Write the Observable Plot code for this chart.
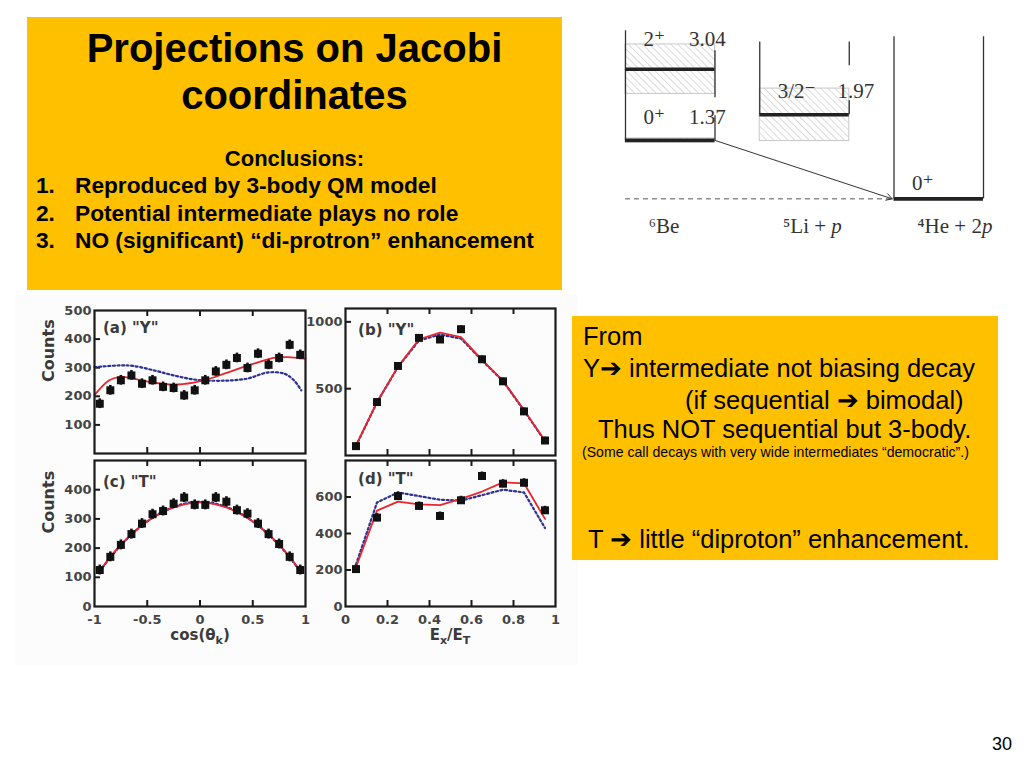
<!DOCTYPE html>
<html><head><meta charset="utf-8">
<script src="https://cdn.jsdelivr.net/npm/d3@7"></script>
<script src="https://cdn.jsdelivr.net/npm/@observablehq/plot@0.6"></script>
<style>
body{margin:0;width:1024px;height:768px;position:relative;background:#fff;overflow:hidden;font-family:"Liberation Sans",Arial,sans-serif;}
.abs{position:absolute;white-space:nowrap;line-height:1;}
.box{position:absolute;background:#FFC000;}
.ax{position:absolute;font-family:"DejaVu Sans",sans-serif;font-weight:bold;font-size:15px;color:#3a3a3a;white-space:nowrap;line-height:1;transform:translateX(-50%);}
.ax sub{font-size:11px;vertical-align:-4px;line-height:0;}
svg{overflow:visible;}
</style></head>
<body>
<div class="box" style="left:27px;top:17px;width:535px;height:273px;"></div>
<div class="abs" style="left:27px;width:535px;text-align:center;top:28px;font-size:40px;font-weight:bold;">Projections on Jacobi</div>
<div class="abs" style="left:27px;width:535px;text-align:center;top:75px;font-size:40px;font-weight:bold;">coordinates</div>
<div class="abs" style="left:27px;width:535px;text-align:center;top:148px;font-size:22px;font-weight:bold;">Conclusions:</div>
<div class="abs" style="left:36px;top:174px;font-size:22.7px;font-weight:bold;">1.</div>
<div class="abs" style="left:75px;top:174px;font-size:22.7px;font-weight:bold;">Reproduced by 3-body QM model</div>
<div class="abs" style="left:36px;top:202px;font-size:22.7px;font-weight:bold;">2.</div>
<div class="abs" style="left:75px;top:202px;font-size:22.7px;font-weight:bold;">Potential intermediate plays no role</div>
<div class="abs" style="left:36px;top:229px;font-size:22.7px;font-weight:bold;">3.</div>
<div class="abs" style="left:75px;top:229px;font-size:22.7px;font-weight:bold;">NO (significant) “di-protron” enhancement</div>

<div id="levels" style="position:absolute;left:563px;top:15px;width:457px;height:233px;background:#fff;"></div>

<div style="position:absolute;left:15px;top:295px;width:563px;height:370px;background:#fcfcfc;"></div>
<div id="pa" style="position:absolute;left:30px;top:300px;"></div>
<div id="pb" style="position:absolute;left:300px;top:298px;"></div>
<div id="pc" style="position:absolute;left:30px;top:450px;"></div>
<div id="pd" style="position:absolute;left:300px;top:450px;"></div>
<div class="ax" style="left:200px;top:628px;">cos(θ<sub>k</sub>)</div>
<div class="ax" style="left:450px;top:628px;">E<sub>x</sub>/E<sub>T</sub></div>

<div class="box" style="left:572px;top:316px;width:426px;height:244px;"></div>
<div class="abs" style="left:583px;top:324px;font-size:25.5px;">From</div>
<div class="abs" style="left:583px;top:356px;font-size:25.5px;">Y➔ intermediate not biasing decay</div>
<div class="abs" style="left:685px;top:388px;font-size:25.5px;">(if sequential ➔ bimodal)</div>
<div class="abs" style="left:598px;top:417px;font-size:25.5px;">Thus NOT sequential but 3-body.</div>
<div class="abs" style="left:582px;top:445px;font-size:14.1px;">(Some call decays with very wide intermediates “democratic”.)</div>
<div class="abs" style="left:588px;top:527px;font-size:25.5px;">T ➔ little “diproton” enhancement.</div>

<div class="abs" style="left:992px;top:735px;font-size:18px;">30</div>

<script>
// ---------- data ----------
const cosBins = [-0.95,-0.85,-0.75,-0.65,-0.55,-0.45,-0.35,-0.25,-0.15,-0.05,0.05,0.15,0.25,0.35,0.45,0.55,0.65,0.75,0.85,0.95];
const ratioBins = [0.05,0.15,0.25,0.35,0.45,0.55,0.65,0.75,0.85,0.95];

// (a) "Y" vs cos(theta_k)
const aCounts = [174,221,256,273,244,256,233,229,203,221,256,287,310,334,299,349,310,334,380,345];
const aRedX  = [-1,-0.86,-0.75,-0.63,-0.44,-0.25,-0.06,0.07,0.26,0.51,0.70,0.83,1.0];
const aRed   = [204,256,268,262,248,241,248,259,283,314,334,337,331];
const aBlueX = [-1,-0.75,-0.63,-0.44,-0.25,-0.06,0.07,0.26,0.45,0.64,0.80,0.89,0.96];
const aBlue  = [302,308,306,291,273,259,255,255,262,283,279,256,221];

// (b) "Y" vs Ex/ET
const bCounts = [70,400,670,880,868,945,720,555,330,112];
const bRed    = [75,400,665,870,920,885,715,560,340,110];
const bBlue   = [72,398,662,860,905,875,712,556,336,108];

// (c) "T" vs cos(theta_k)
const cCounts = [125,170,211,248,284,316,327,352,373,348,348,373,359,330,318,284,248,214,170,125];
const cRed    = [122,170,212,247,278,303,323,339,350,356,356,350,339,323,303,278,247,212,170,122];
const cBlue   = [120,168,210,246,278,304,325,341,352,358,358,352,341,325,304,278,246,210,168,120];

// (d) "T" vs Ex/ET
const dCounts = [205,487,605,551,496,582,715,673,678,527];
const dRed    = [215,525,575,560,555,590,630,680,675,480];
const dBlue   = [230,570,625,605,585,580,610,640,625,430];

// tick labels
const cosTicks = [-1,-0.5,0,0.5,1];
const ratioTicks = [0,0.2,0.4,0.6,0.8,1];
const yTicksA = [100,200,300,400,500];
const yTicksB = [500,1000];
const yTicksC = [0,100,200,300,400];
const yTicksD = [0,200,400,600];

// level scheme (energies in MeV)
const levelE     = [3.04, 1.37, 1.97, 0];
const levelGamma = [1.16, 0.092, 1.23, 0];
const levelCol   = [0, 0, 1.5, 3];
const levelJ     = ["2⁺", "0⁺", "3/2⁻", "0⁺"];
const levelText  = ["3.04", "1.37", "1.97", ""];
const systems    = ["⁶Be", "⁵Li + ", "⁴He + 2"];
const systemCol  = [0, 1.5, 3];

// ---------- panels ----------
function panel(o){
  const fw = o.width - o.mL - o.mR, fh = o.height - o.mT - o.mB;
  const tly = (o.yDomain[1]-o.yDomain[0]) / fh * 6;
  const tlx = (o.xDomain[1]-o.xDomain[0]) / fw * 6;
  const idx = d3.range(o.obs.length);
  const marks = [
    Plot.ruleX(o.xInner, {x: d=>d, y1: o.yDomain[1], y2: o.yDomain[1]-tly, stroke:"#1a1a1a", strokeWidth:2}),
    Plot.ruleX(o.xInner, {x: d=>d, y1: o.yDomain[0], y2: o.yDomain[0]+tly, stroke:"#1a1a1a", strokeWidth:2}),
    Plot.ruleY(o.yInner, {y: d=>d, x1: o.xDomain[0], x2: o.xDomain[0]+tlx, stroke:"#1a1a1a", strokeWidth:2}),
    Plot.line(d3.range(o.blue.length), {x: i=>o.blueX[i], y: i=>o.blue[i], stroke:"#2e3192", strokeWidth:2.2, strokeDasharray:"2,2.6", curve:o.curve}),
    Plot.line(d3.range(o.red.length), {x: i=>o.redX[i], y: i=>o.red[i], stroke:"#e8262d", strokeWidth:1.8, curve:o.curve}),
    Plot.ruleX(idx, {x: i=>o.obsX[i], y1: i=>o.obs[i]-o.err, y2: i=>o.obs[i]+o.err, stroke:"#111", strokeWidth:2.6}),
    Plot.dot(idx, {x: i=>o.obsX[i], y: i=>o.obs[i], symbol:"square", r:4.5, fill:"#111"}),
    Plot.text([o.label], {x: o.labelX, y: o.labelY, text: d=>d, textAnchor:"start", fontSize:15, fontWeight:"bold", fill:"#3a3a3a"}),
    Plot.axisY({ticks: o.yTicks, tickSize:0, tickPadding:3, label:null, tickFormat: d=>String(d)}),
    Plot.frame({stroke:"#1a1a1a", strokeWidth:2.2})
  ];
  if (o.xTicks) marks.push(Plot.axisX({ticks:o.xTicks, tickSize:0, tickPadding:8, label:null, tickFormat: d=>String(d)}));
  if (o.ylab) marks.push(Plot.text([o.ylab], {frameAnchor:"left", dx:-46, rotate:-90, text:d=>d, fontSize:16, fontWeight:"bold", fill:"#3a3a3a"}));
  return Plot.plot({
    width:o.width, height:o.height,
    marginLeft:o.mL, marginRight:o.mR, marginTop:o.mT, marginBottom:o.mB,
    x:{domain:o.xDomain, axis:null}, y:{domain:o.yDomain, axis:null},
    style:{fontFamily:"DejaVu Sans, sans-serif", fontWeight:"bold", fontSize:"13px", color:"#444", background:"transparent", overflow:"visible"},
    marks
  });
}

document.getElementById("pa").append(panel({
  width:283, height:157, mL:64, mR:8, mT:10, mB:4,
  xDomain:[-1,1], yDomain:[0,500], yTicks:yTicksA, xInner:[-0.5,0,0.5], yInner:[100,200,300,400],
  obs:aCounts, obsX:cosBins, err:17, red:aRed, redX:aRedX, blue:aBlue, blueX:aBlueX, curve:"catmull-rom",
  label:'(a) "Y"', labelX:-0.92, labelY:438, ylab:"Counts"
}));
document.getElementById("pb").append(panel({
  width:265, height:161, mL:45, mR:10, mT:10, mB:4,
  xDomain:[0,1], yDomain:[0,1100], yTicks:yTicksB, xInner:[0.2,0.4,0.6,0.8], yInner:[500,1000],
  obs:bCounts, obsX:ratioBins, err:25, red:bRed, redX:ratioBins, blue:bBlue, blueX:ratioBins, curve:"linear",
  label:'(b) "Y"', labelX:0.06, labelY:935
}));
document.getElementById("pc").append(panel({
  width:283, height:186, mL:64, mR:8, mT:10, mB:30,
  xDomain:[-1,1], yDomain:[0,500], yTicks:yTicksC, xTicks:cosTicks, xInner:[-0.5,0,0.5], yInner:[100,200,300,400],
  obs:cCounts, obsX:cosBins, err:17, red:cRed, redX:cosBins, blue:cBlue, blueX:cosBins, curve:"catmull-rom",
  label:'(c) "T"', labelX:-0.92, labelY:425, ylab:"Counts"
}));
document.getElementById("pd").append(panel({
  width:265, height:186, mL:45, mR:10, mT:10, mB:30,
  xDomain:[0,1], yDomain:[0,800], yTicks:yTicksD, xTicks:ratioTicks, xInner:[0.2,0.4,0.6,0.8], yInner:[200,400,600],
  obs:dCounts, obsX:ratioBins, err:22, red:dRed, redX:ratioBins, blue:dBlue, blueX:ratioBins, curve:"linear",
  label:'(d) "T"', labelX:0.06, labelY:695
}));

// ---------- level diagram ----------
const li = d3.range(levelE.length);
const vX  = [0, 1, 1, 1.5, 2.5, 2.5, 3, 4];
const vY1 = [3.94, 3.47, 1.95, 3.68, 3.68, 2.3, 3.8, 3.8];
const vY2 = [1.37, 2.37, 1.37, 1.97, 3.12, 1.97, 0, 0];
const labOff = [0.55, 0.38, 0.4, 0.2];
const lev = Plot.plot({
  width:457, height:233, marginLeft:62, marginRight:37, marginTop:17, marginBottom:7,
  x:{domain:[0,4], axis:null}, y:{domain:[-1,3.9], axis:null},
  style:{fontFamily:"Liberation Serif, DejaVu Serif, serif", fontSize:"21px", color:"#333", background:"transparent", overflow:"visible"},
  marks:[
    Plot.rect(li.filter(i=>levelGamma[i]>0), {x1:i=>levelCol[i], x2:i=>levelCol[i]+1, y1:i=>levelE[i]-levelGamma[i]/2, y2:i=>levelE[i]+levelGamma[i]/2, fill:"url(#hatch)", stroke:"#c8c8c8", strokeWidth:1}),
    Plot.ruleX(d3.range(vX.length), {x:i=>vX[i], y1:i=>vY1[i], y2:i=>vY2[i], stroke:"#333", strokeWidth:1.3}),
    Plot.ruleY([0], {y:d=>d, x1:0, x2:3, stroke:"#555", strokeWidth:1, strokeDasharray:"5,4"}),
    Plot.ruleY(li, {y:i=>levelE[i], x1:i=>levelCol[i], x2:i=>levelCol[i]+1, stroke:"#222", strokeWidth:3.6}),
    Plot.arrow([0], {x1:1, y1:1.37, x2:2.98, y2:0, stroke:"#333", strokeWidth:1, headLength:10}),
    Plot.text(li, {x:i=>levelCol[i]+0.2, y:i=>levelE[i]+labOff[i], text:i=>levelJ[i], textAnchor:"start", lineAnchor:"bottom", fill:"#333"}),
    Plot.text(li.filter(i=>levelText[i]), {x:i=>levelCol[i]+ (i===2?1.28:1.12), y:i=>levelE[i]+labOff[i], text:i=>levelText[i], textAnchor:"end", lineAnchor:"bottom", fill:"#333"}),
    Plot.text(d3.range(systems.length), {x:i=>systemCol[i]+0.26, y:-0.8, text:i=>systems[i], textAnchor:"start", lineAnchor:"bottom", fill:"#333"})
  ]
});
const ns = "http://www.w3.org/2000/svg";
const defs = document.createElementNS(ns, "defs");
defs.innerHTML = '<pattern id="hatch" width="5" height="5" patternUnits="userSpaceOnUse" patternTransform="rotate(-45)"><line x1="0" y1="0" x2="0" y2="5" stroke="#b5b5b5" stroke-width="1"/></pattern>';
lev.insertBefore(defs, lev.firstChild);
// italic "p" after system names (5Li + p, 4He + 2p)
lev.querySelectorAll("text").forEach(t => {
  if (t.textContent === "⁵Li + " || t.textContent === "⁴He + 2") {
    const ts = document.createElementNS(ns, "tspan");
    ts.setAttribute("font-style", "italic");
    ts.textContent = "p";
    t.append(ts);
  }
});
document.getElementById("levels").append(lev);
</script>
</body></html>
